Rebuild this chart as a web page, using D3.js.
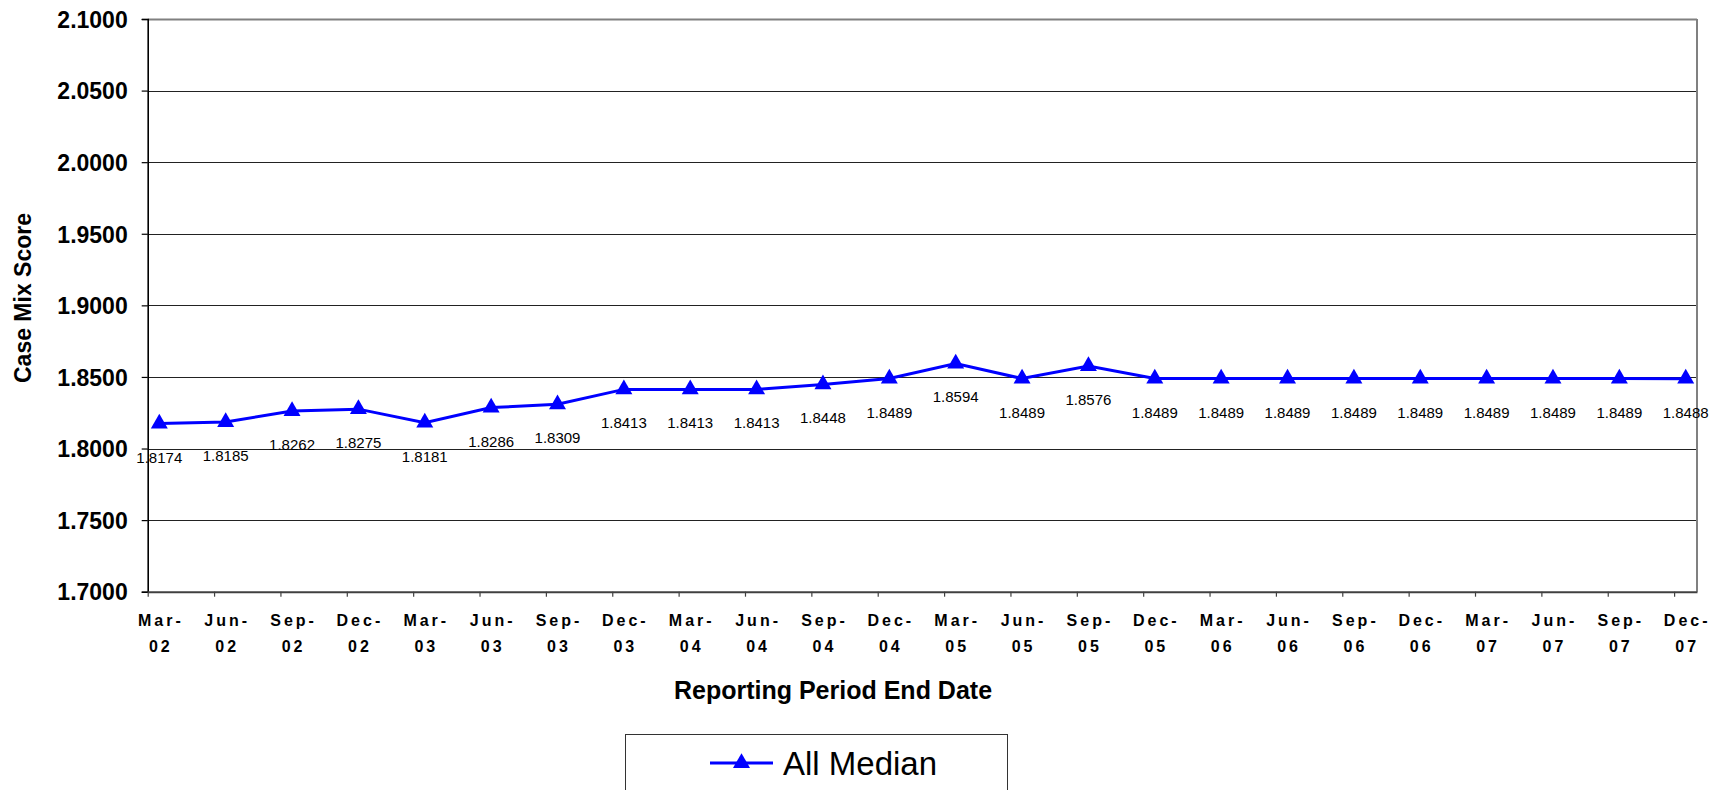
<!DOCTYPE html>
<html>
<head>
<meta charset="utf-8">
<script src="https://cdn.jsdelivr.net/npm/d3@7"></script>
<style>
  html, body { margin: 0; padding: 0; background: #fff; }
  svg { display: block; font-family: "Liberation Sans", Arial, sans-serif; }
</style>
</head>
<body>
<svg id="chart" width="1729" height="790"></svg>
<script>
// ---- Data ----
const categories = ["Mar-02","Jun-02","Sep-02","Dec-02","Mar-03","Jun-03","Sep-03","Dec-03",
  "Mar-04","Jun-04","Sep-04","Dec-04","Mar-05","Jun-05","Sep-05","Dec-05",
  "Mar-06","Jun-06","Sep-06","Dec-06","Mar-07","Jun-07","Sep-07","Dec-07"];
const allMedian = [1.8174,1.8185,1.8262,1.8275,1.8181,1.8286,1.8309,1.8413,
  1.8413,1.8413,1.8448,1.8489,1.8594,1.8489,1.8576,1.8489,
  1.8489,1.8489,1.8489,1.8489,1.8489,1.8489,1.8489,1.8488];
const yTicks = [1.70,1.75,1.80,1.85,1.90,1.95,2.00,2.05,2.10];
const seriesName = "All Median";
const yTitle = "Case Mix Score";
const xTitle = "Reporting Period End Date";

// ---- Layout ----
const svg = d3.select("#chart");
const pL = 147.7, pR = 1697, pT = 19, pB = 591.7;
const x = d3.scaleLinear().domain([-0.175, categories.length - 0.83]).range([pL, pR]);
const y = d3.scaleLinear().domain([1.70, 2.10]).range([pB, pT]);
const blue = "#0000FF";

// gridlines
svg.append("g").selectAll("line").data(yTicks.slice(1)).join("line")
  .attr("x1", pL).attr("x2", pR)
  .attr("y1", d => Math.round(y(d)) + 0.5).attr("y2", d => Math.round(y(d)) + 0.5)
  .attr("stroke", d => d === 2.10 ? "#808080" : "#222")
  .attr("stroke-width", d => d === 2.10 ? 2 : 1);

// right border
svg.append("line").attr("x1", pR).attr("x2", pR).attr("y1", pT).attr("y2", pB)
  .attr("stroke", "#808080").attr("stroke-width", 2);

// y axis
const yAxis = svg.append("g").attr("transform", `translate(${pL},0)`)
  .call(d3.axisLeft(y).tickValues(yTicks).tickFormat(d3.format(".4f")).tickSize(6).tickPadding(14));
yAxis.select(".domain").attr("stroke", "#000").attr("stroke-width", 1.6);
yAxis.selectAll(".tick line").attr("stroke", "#000").attr("stroke-width", 1.2);
yAxis.selectAll(".tick text").attr("font-size", 23).attr("font-weight", "bold")
  .attr("fill", "#000").attr("font-family", "'Liberation Sans', Arial, sans-serif").attr("dy", "0.36em");

// x axis (ticks between categories)
const xTickVals = categories.map((c, i) => i - 0.175);
const xAxis = svg.append("g").attr("transform", `translate(0,${pB})`)
  .call(d3.axisBottom(x).tickValues(xTickVals).tickFormat("").tickSize(5).tickSizeOuter(0));
xAxis.select(".domain").attr("stroke", "#404040").attr("stroke-width", 2);
xAxis.selectAll(".tick line").attr("stroke", "#404040").attr("stroke-width", 1.2);

// x category labels (two lines)
const xl = svg.append("g").selectAll("text").data(categories).join("text")
  .attr("text-anchor", "middle").attr("font-size", 16).attr("font-weight", "bold")
  .attr("letter-spacing", "3px").attr("fill", "#000");
xl.append("tspan").attr("x", (d, i) => x(i) + 1.5).attr("y", 625.7).text(d => d.split("-")[0] + "-");
xl.append("tspan").attr("x", (d, i) => x(i) + 1.5).attr("y", 652.3).text(d => d.split("-")[1]);

// line
svg.append("path").datum(allMedian)
  .attr("fill", "none").attr("stroke", blue).attr("stroke-width", 3)
  .attr("d", d3.line().x((d, i) => x(i)).y(d => y(d)));

// markers
const tri = d3.symbol(d3.symbolTriangle).size(125);
svg.append("g").selectAll("path").data(allMedian).join("path")
  .attr("d", tri).attr("fill", blue)
  .attr("transform", (d, i) => `translate(${x(i)},${y(d)})`);

// data labels
svg.append("g").selectAll("text").data(allMedian).join("text")
  .attr("x", (d, i) => x(i)).attr("y", d => y(d) + 39)
  .attr("text-anchor", "middle").attr("font-size", 15).attr("fill", "#000")
  .text(d => d3.format(".4f")(d));

// axis titles
svg.append("text").attr("transform", "translate(31,298) rotate(-90)")
  .attr("text-anchor", "middle").attr("font-size", 23).attr("font-weight", "bold").text(yTitle);
svg.append("text").attr("x", 833).attr("y", 699)
  .attr("text-anchor", "middle").attr("font-size", 25).attr("font-weight", "bold").text(xTitle);

// legend
svg.append("rect").attr("x", 625.5).attr("y", 734.5).attr("width", 382).attr("height", 70)
  .attr("fill", "#fff").attr("stroke", "#333").attr("stroke-width", 1);
svg.append("line").attr("x1", 710).attr("x2", 773).attr("y1", 763).attr("y2", 763)
  .attr("stroke", blue).attr("stroke-width", 3);
svg.append("path").attr("d", tri).attr("fill", blue).attr("transform", "translate(741.5,763)");
svg.append("text").attr("x", 783).attr("y", 775).attr("font-size", 33).attr("fill", "#000").text(seriesName);
</script>
</body>
</html>
